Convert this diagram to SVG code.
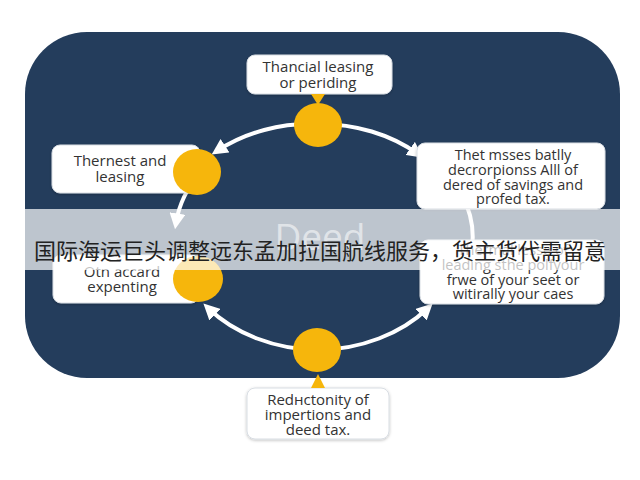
<svg xmlns="http://www.w3.org/2000/svg" width="640" height="480" viewBox="0 0 640 480">
<defs>
<style>
.box{fill:#ffffff;stroke:#d8dde3;stroke-width:1}
.t{font-family:"Open Sans","Liberation Sans",sans-serif;font-size:15px;fill:#333333;text-anchor:middle}
.s{font-size:14.5px}
.dot{fill:#f6b60c}
.arc{fill:none;stroke:#ffffff;stroke-width:4;stroke-linecap:round}
</style>
<marker id="ah" viewBox="0 0 10 10" refX="6" refY="5" markerUnits="userSpaceOnUse" markerWidth="16" markerHeight="16" orient="auto">
<path d="M0,0 L10,5 L0,10 z" fill="#ffffff"/>
</marker>
<filter id="sh" x="-10%" y="-10%" width="120%" height="130%">
<feDropShadow dx="0" dy="1" stdDeviation="1.5" flood-color="#000000" flood-opacity="0.25"/>
</filter>
</defs>
<rect width="640" height="480" fill="#ffffff"/>
<rect id="panel" x="25" y="32" width="595" height="346" rx="62" fill="#243d5c"/>
<text x="320" y="250" font-family="Open Sans, Liberation Sans, sans-serif" font-size="37" fill="#ffffff" fill-opacity="0.55" text-anchor="middle">Deed</text>
<g id="connectors">
<path class="arc" d="M318,124 A145,113 0 0,1 418,154" marker-end="url(#ah)"/>
<path class="arc" d="M318,124 A145,113 0 0,0 217,151" marker-end="url(#ah)"/>
<path class="arc" d="M201,172 A145,113 0 0,0 176,223" marker-end="url(#ah)"/>
<path class="arc" d="M318,350 A145,113 0 0,1 208,308" marker-end="url(#ah)"/>
<path class="arc" d="M318,350 A145,113 0 0,0 428,308" marker-end="url(#ah)"/>
<path class="arc" d="M462,195 A150,113 0 0,1 462,279"/>
</g>
<g id="n-top">
<rect class="box" filter="url(#sh)" x="247" y="55" width="145" height="39" rx="8"/>
<polygon class="dot" points="311,94 325,94 318,105"/>
<text class="t" x="318" y="72">Thancial leasing</text>
<text class="t" x="318" y="88">or periding</text>
<ellipse class="dot" cx="318" cy="125" rx="24" ry="22"/>
</g>
<g id="n-lefttop">
<rect class="box" filter="url(#sh)" x="52" y="145" width="148" height="48" rx="8"/>
<text class="t" x="120" y="166">Thernest and</text>
<text class="t" x="120" y="182">leasing</text>
<ellipse class="dot" cx="197" cy="172" rx="24" ry="23"/>
</g>
<g id="n-righttop">
<rect class="box" filter="url(#sh)" x="417" y="143" width="188" height="66" rx="8"/>
<text class="t s" x="513" y="160">Thet msses batlly</text>
<text class="t s" x="513" y="175">decrorpionss Alll of</text>
<text class="t s" x="513" y="189.5">dered of savings and</text>
<text class="t s" x="513" y="204">profed tax.</text>
</g>
<g id="n-leftbottom">
<rect class="box" filter="url(#sh)" x="53" y="255" width="146" height="48" rx="8"/>
<text class="t" x="122" y="277">Otn accard</text>
<text class="t" x="122" y="292">expenting</text>
<ellipse class="dot" cx="198" cy="279" rx="25" ry="23"/>
</g>
<g id="n-rightbottom">
<rect class="box" filter="url(#sh)" x="420" y="240" width="184" height="64" rx="8"/>
<text class="t s" x="513" y="255">Thermal lesse of</text>
<text class="t s" x="513" y="270">leading sthe polfyour</text>
<text class="t s" x="513" y="284.5">frwe of your seet or</text>
<text class="t s" x="513" y="299">witirally your caes</text>
</g>
<g id="n-bottom">
<rect class="box" filter="url(#sh)" x="247" y="388" width="142" height="51" rx="8"/>
<polygon class="dot" points="311,388 325,388 318,374"/>
<text class="t" x="318" y="405">Redнctonity of</text>
<text class="t" x="318" y="420">impertions and</text>
<text class="t" x="318" y="435">deed tax.</text>
<ellipse class="dot" cx="317" cy="350" rx="24" ry="22"/>
</g>
<rect id="band" x="25" y="209" width="595" height="61" fill="#ffffff" fill-opacity="0.7"/>
<text x="320" y="259" font-family="Noto Sans CJK SC, sans-serif" font-size="22" fill="#222222" text-anchor="middle">国际海运巨头调整远东孟加拉国航线服务，货主货代需留意</text>
</svg>
